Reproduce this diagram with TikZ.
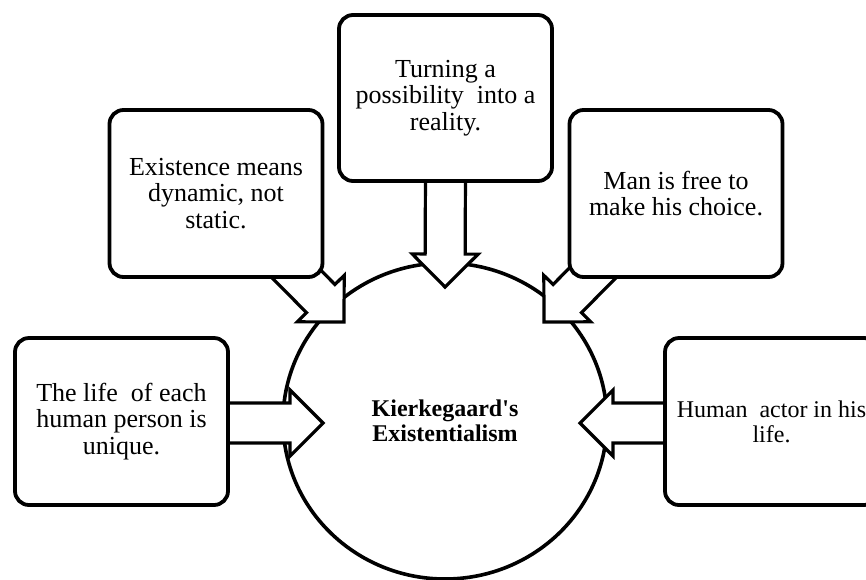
\documentclass[tikz,border=0pt]{standalone}
\usepackage{fontspec}
\setmainfont{Liberation Serif}
\usetikzlibrary{calc,shapes.geometric}
\pgfdeclarelayer{bg}
\pgfsetlayers{bg,main}
\newcommand\blockarr[2]{%
  \path ($(#2)!33pt!(#1)$) coordinate (ba-c);
  \filldraw[arrowbody] ($(#1)!20pt!90:(#2)$) -- ($(ba-c)!20pt!90:(#2)$) -- ($(ba-c)!33pt!90:(#2)$) -- (#2)
    -- ($(ba-c)!33pt!-90:(#2)$) -- ($(ba-c)!20pt!-90:(#2)$) -- ($(#1)!20pt!-90:(#2)$) -- cycle;}
\begin{document}
\begin{tikzpicture}[x=1pt,y=-1pt,
  box/.style={draw, line width=3.8pt, rounded corners=14pt, fill=white,
    minimum width=213pt, minimum height=167pt, align=center, inner sep=0pt,
    font=\fontsize{26}{26.5}\selectfont},
  arrowbody/.style={draw, fill=white, line width=3.2pt, line join=miter},
  hub/.style={ellipse, draw, line width=3.6pt, minimum width=324pt, minimum height=316pt,
    inner sep=0pt, align=center, font=\bfseries\fontsize{24}{25}\selectfont}]
\useasboundingbox (0,0) rectangle (866,579);
% boxes
\node[box] (lbox) at (121.5,421.5) {The life\ \ of each\\human person is\\unique.};
\node[box] (tlbox) at (216,193.5) {Existence means\\dynamic, not\\static.};
\node[box, minimum height=166pt] (tbox) at (445.5,98) {Turning a\\possibility\ \ into a\\reality.};
\node[box] (trbox) at (676,193.5) {Man is free to\\make his choice.};
\node[box, font=\fontsize{24}{25}\selectfont] (rbox) at (771.5,421.5) {Human\ \ actor in his\\life.};
\begin{pgfonlayer}{bg}
\node[hub] (core) at (445,421) {Kierkegaard\textquotesingle s\\Existentialism};
\coordinate (aL) at ($(lbox.east)+(-15,1.5)$);
\coordinate (tL) at ($(core.center)+(-122,2)$);
\coordinate (aR) at ($(rbox.west)+(15,1.5)$);
\coordinate (tR) at ($(core.center)+(135,2)$);
\coordinate (aT) at ($(tbox.south)+(0,-12)$);
\coordinate (tT) at ($(core.center)+(0,-134)$);
\coordinate (aTL) at ($(tlbox.south east)+(-41,-18)$);
\coordinate (tTL) at ($(core.center)+(-101,-99)$);
\coordinate (aTR) at ($(trbox.south west)+(38,-19)$);
\coordinate (tTR) at ($(core.center)+(99,-99)$);
\blockarr{aL}{tL}
\blockarr{aR}{tR}
\blockarr{aT}{tT}
\blockarr{aTL}{tTL}
\blockarr{aTR}{tTR}
\end{pgfonlayer}
\end{tikzpicture}
\end{document}
